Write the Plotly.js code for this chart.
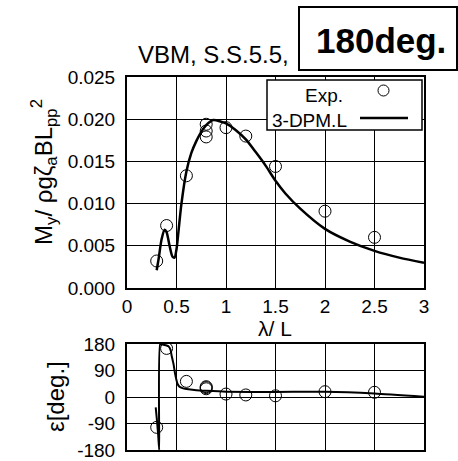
<!DOCTYPE html>
<html>
<head>
<meta charset="utf-8">
<script src="https://cdn.plot.ly/plotly-3.0.1.min.js"></script>
<style>html,body{margin:0;padding:0;background:#fff;}#chart{width:458px;height:461px;}</style>
</head>
<body>
<div id="chart"></div>
<script>
// Experimental data (circles)
var expLambda = [0.3, 0.4, 0.6, 0.8, 0.8, 0.8, 1.0, 1.2, 1.5, 2.0, 2.5];
var expAmp    = [0.0032, 0.0074, 0.0133, 0.0194, 0.0186, 0.0179, 0.0190, 0.0180, 0.0144, 0.0091, 0.0060];
var expPhase  = [-103, 165, 53, 35, 32, 28, 10, 7, 4, 18, 16];

// 3-DPM.L calculation (amplitude)
var calcLambda = [0.30, 0.32, 0.35, 0.38, 0.40, 0.43, 0.46, 0.48, 0.50, 0.52, 0.55, 0.60, 0.65, 0.70, 0.75, 0.80, 0.87, 0.95, 1.00, 1.10, 1.20, 1.30, 1.40, 1.50, 1.60, 1.75, 2.00, 2.25, 2.50, 2.75, 3.00];
var calcAmp    = [0.0021, 0.0035, 0.0058, 0.0069, 0.0066, 0.0050, 0.0037, 0.0036, 0.0046, 0.0067, 0.0100, 0.0138, 0.0160, 0.0174, 0.0185, 0.0193, 0.0199, 0.0197, 0.0195, 0.0187, 0.0176, 0.0161, 0.0145, 0.0127, 0.0112, 0.0094, 0.0070, 0.0055, 0.0044, 0.0036, 0.0030];

// 3-DPM.L calculation (phase)
var phaseLambda = [0.29, 0.30, 0.315, 0.325, 0.335, 0.36, 0.40, 0.42, 0.44, 0.45, 0.47, 0.485, 0.50, 0.51, 0.53, 0.56, 0.60, 0.70, 0.80, 1.00, 1.50, 2.00, 2.50, 3.00];
var calcPhase   = [-35, -70, -130, -180, 180, 178, 175, 172, 160, 142, 112, 80, 57, 45, 35, 30, 27, 23, 21, 18, 17, 18, 12, 1];

var xTickVals = [0, 0.5, 1, 1.5, 2, 2.5, 3];
var xTickText = ['0', '0.5', '1', '1.5', '2', '2.5', '3'];
var ampTickVals = [0, 0.005, 0.01, 0.015, 0.02, 0.025];
var ampTickText = ['0.000', '0.005', '0.010', '0.015', '0.020', '0.025'];
var phTickVals = [-180, -90, 0, 90, 180];
var phTickText = ['-180', '-90', '0', '90', '180'];

var W = 458, H = 461;
function px(x) { return x / W; }
function py(y) { return 1 - y / H; }
var FONT = 'Liberation Sans, Arial, Helvetica, sans-serif';

var traces = [
  {x: calcLambda, y: calcAmp, type: 'scatter', mode: 'lines', line: {color: '#000', width: 2.5, shape: 'spline', smoothing: 0.8}, xaxis: 'x', yaxis: 'y', hoverinfo: 'skip'},
  {x: expLambda, y: expAmp, type: 'scatter', mode: 'markers', marker: {symbol: 'circle-open', size: 12, color: '#000', line: {width: 1, color: '#000'}}, xaxis: 'x', yaxis: 'y'},
  {x: phaseLambda, y: calcPhase, type: 'scatter', mode: 'lines', line: {color: '#000', width: 2, shape: 'spline', smoothing: 0.5}, xaxis: 'x2', yaxis: 'y2', hoverinfo: 'skip'},
  {x: expLambda, y: expPhase, type: 'scatter', mode: 'markers', marker: {symbol: 'circle-open', size: 12, color: '#000', line: {width: 1, color: '#000'}}, xaxis: 'x2', yaxis: 'y2'}
];

var xdom = [px(127), px(424)];
var common = {showgrid: true, gridcolor: '#000', gridwidth: 1, showline: true, mirror: true, linecolor: '#000', linewidth: 2, ticks: '', zeroline: false, tickfont: {family: FONT, size: 19, color: '#000'}};

var layout = {
  width: W, height: H, autosize: false,
  margin: {l: 0, r: 0, t: 0, b: 0},
  paper_bgcolor: '#fff', plot_bgcolor: '#fff',
  showlegend: false,
  font: {family: FONT, color: '#000'},
  xaxis: Object.assign({}, common, {domain: xdom, range: [0, 3], anchor: 'y', tickvals: xTickVals, ticktext: xTickText}),
  yaxis: Object.assign({}, common, {domain: [py(288), py(77)], range: [0, 0.025], anchor: 'x', tickvals: ampTickVals, ticktext: ampTickText, ticklabelstandoff: 6}),
  xaxis2: Object.assign({}, common, {domain: xdom, range: [0, 3], anchor: 'y2', tickvals: xTickVals, showticklabels: false}),
  yaxis2: Object.assign({}, common, {domain: [py(450), py(344)], range: [-180, 180], anchor: 'x2', tickvals: phTickVals, ticktext: phTickText, ticklabelstandoff: 6}),
  shapes: [
    // legend box
    {type: 'rect', xref: 'paper', yref: 'paper', x0: px(267), x1: px(422), y0: py(130), y1: py(80), line: {color: '#000', width: 1.5}, fillcolor: '#fff', layer: 'above'},
    {type: 'circle', xref: 'paper', yref: 'paper', x0: px(378), x1: px(389), y0: py(96), y1: py(85), line: {color: '#000', width: 1}, layer: 'above'},
    {type: 'line', xref: 'paper', yref: 'paper', x0: px(360), x1: px(408), y0: py(118), y1: py(118), line: {color: '#000', width: 2.5}, layer: 'above'},
    // 180deg box
    {type: 'rect', xref: 'paper', yref: 'paper', x0: px(299), x1: px(457), y0: py(70), y1: py(7), line: {color: '#000', width: 2}, fillcolor: '#fff', layer: 'above'}
  ],
  annotations: [
    {text: 'VBM, S.S.5.5,', xref: 'paper', yref: 'paper', x: px(213), y: py(54), xanchor: 'center', yanchor: 'middle', showarrow: false, font: {family: FONT, size: 24, color: '#000'}},
    {text: '<b>180deg.</b>', xref: 'paper', yref: 'paper', x: px(381), y: py(40), xanchor: 'center', yanchor: 'middle', showarrow: false, font: {family: FONT, size: 35, color: '#000'}},
    {text: 'Exp.', xref: 'paper', yref: 'paper', x: px(345), y: py(95), xanchor: 'right', yanchor: 'middle', showarrow: false, font: {family: FONT, size: 19, color: '#000'}},
    {text: '3-DPM.L', xref: 'paper', yref: 'paper', x: px(270), y: py(120), xanchor: 'left', yanchor: 'middle', showarrow: false, font: {family: FONT, size: 19, color: '#000'}},
    {text: 'λ/ L', xref: 'paper', yref: 'paper', x: px(275), y: py(328), xanchor: 'center', yanchor: 'middle', showarrow: false, font: {family: FONT, size: 21, color: '#000'}},
    {text: 'M<sub>y</sub>/ ρgζ<sub>a</sub>BL<sub>pp</sub><sup>2</sup>', xref: 'paper', yref: 'paper', x: px(44), y: py(172), xanchor: 'center', yanchor: 'middle', textangle: -90, showarrow: false, font: {family: FONT, size: 24, color: '#000'}},
    {text: 'ε[deg.]', xref: 'paper', yref: 'paper', x: px(55), y: py(397), xanchor: 'center', yanchor: 'middle', textangle: -90, showarrow: false, font: {family: FONT, size: 24, color: '#000'}}
  ]
};

Plotly.newPlot('chart', traces, layout, {displayModeBar: false, staticPlot: true});
</script>
</body>
</html>
